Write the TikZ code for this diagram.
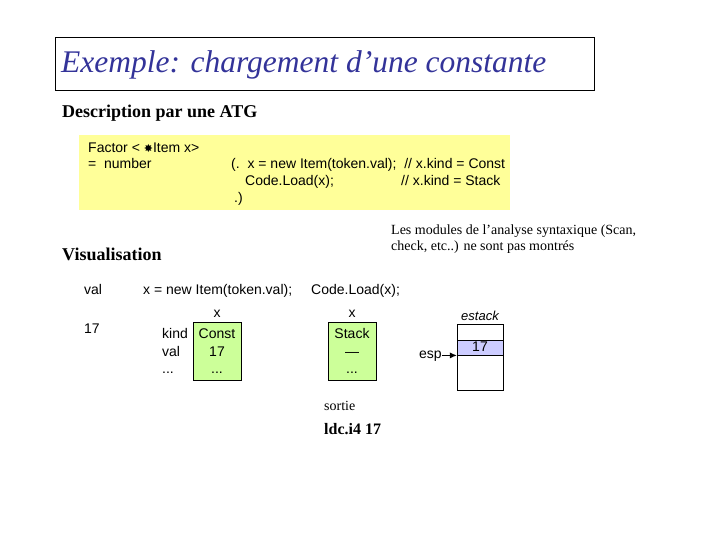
\documentclass[tikz,border=0pt]{standalone}
\usepackage{fontspec}
\setmainfont{Liberation Serif}
\setsansfont{Liberation Sans}
\newfontfamily\symfont{DejaVu Sans}
\usetikzlibrary{arrows.meta,positioning}
\definecolor{titleblue}{RGB}{51,51,153}
\definecolor{atgyellow}{RGB}{255,255,153}
\definecolor{objgreen}{RGB}{204,255,153}
\definecolor{slotblue}{RGB}{204,204,255}
\tikzset{
  codetxt/.style={anchor=base west, inner sep=0pt, font=\sffamily\fontsize{14}{16}\selectfont},
  celltxt/.style={anchor=base, inner sep=0pt, font=\sffamily\fontsize{14}{16}\selectfont},
  headtxt/.style={anchor=base west, inner sep=0pt, font=\bfseries\fontsize{18}{21}\selectfont},
  notetxt/.style={anchor=base west, inner sep=0pt, font=\fontsize{14}{16}\selectfont},
  objbox/.style={draw, fill=objgreen, minimum width=48pt, minimum height=58pt, inner sep=0pt},
  stackcell/.style={draw, minimum width=46pt, inner sep=0pt},
  espline/.style={-{Latex[length=2.5mm,width=2.2mm]}, line width=1.5pt},
}

\begin{document}
\begin{tikzpicture}[x=1pt,y=-1pt]
  \useasboundingbox (0,0) rectangle (720,540);
  % title
  \node[draw, minimum width=539pt, minimum height=53pt, anchor=north west] (titlebox) at (55,37) {};
  \node[anchor=base west, inner sep=0pt, font=\itshape\fontsize{31.5}{35}\selectfont, text=titleblue] (title) at (61,73) {Exemple: chargement d’une constante};
  % ATG
  \node[headtxt] (desc) at (62,118) {Description par une ATG};
  \node[fill=atgyellow, minimum width=431pt, minimum height=75pt, anchor=north west] (atg) at (79,135) {};
  \node[codetxt] (factor) at (88,153) {Factor < {\symfont\fontsize{11}{12}\selectfont ✸}Item x>};
  \node[codetxt] (number) at (88,169) {=\ \ number};
  \node[codetxt] (newitem) at (231,169) {(.\ \ x = new Item(token.val);\ \ // x.kind = Const};
  \node[codetxt] (load) at (245,186) {Code.Load(x);};
  \node[codetxt] (kindstack) at (401,186) {// x.kind = Stack};
  \node[codetxt] (close) at (234,203) {.)};
  % note
  \node[notetxt] (note1) at (391,234) {Les modules de l’analyse syntaxique (Scan,};
  \node[notetxt] (note2) at (391,251) {check, etc..) ne sont pas montrés};
  % visualisation
  \node[headtxt] (visu) at (62,260) {Visualisation};
  \node[codetxt] (valhead) at (84,294) {val};
  \node[codetxt] (stephead1) at (143,294) {x = new Item(token.val);};
  \node[codetxt] (stephead2) at (311,294) {Code.Load(x);};
  \node[codetxt] (valnum) at (84,333) {17};
  % item after new Item
  \node[objbox, anchor=north west] (constobj) at (193,322) {};
  \node[celltxt] at (217,317) {x};
  \node[celltxt] at (217,338) {Const};
  \node[celltxt] at (217,356) {17};
  \node[celltxt] at (217,373) {...};
  \node[codetxt] at (162,338) {kind};
  \node[codetxt] at (162,356) {val};
  \node[codetxt] at (162,373) {...};
  % item after Load
  \node[objbox, anchor=north west] (stackobj) at (328,322) {};
  \node[celltxt] at (352,317) {x};
  \node[celltxt] at (352,338) {Stack};
  \node[celltxt] at (352,356) {---};
  \node[celltxt] at (352,373) {...};
  % expression stack
  \node[stackcell, minimum height=66pt, anchor=north west] (estack) at (457,324) {};
  \node[stackcell, fill=slotblue, minimum height=15pt, anchor=north west] (slot) at (457,340) {};
  \node[celltxt, font=\sffamily\itshape\fontsize{13}{15}\selectfont] (estacklbl) at (480,320) {estack};
  \node[celltxt] at (480,351) {17};
  \node[codetxt] (esp) at (419,358) {esp};
  \draw[espline] (esp.east |- slot.south) -- (slot.south west);
  % output
  \node[notetxt] (sortie) at (324,410) {sortie};
  \node[anchor=base west, inner sep=0pt, font=\bfseries\fontsize{16}{19}\selectfont] (ldc) at (324,434) {ldc.i4 17};
\end{tikzpicture}
\end{document}
